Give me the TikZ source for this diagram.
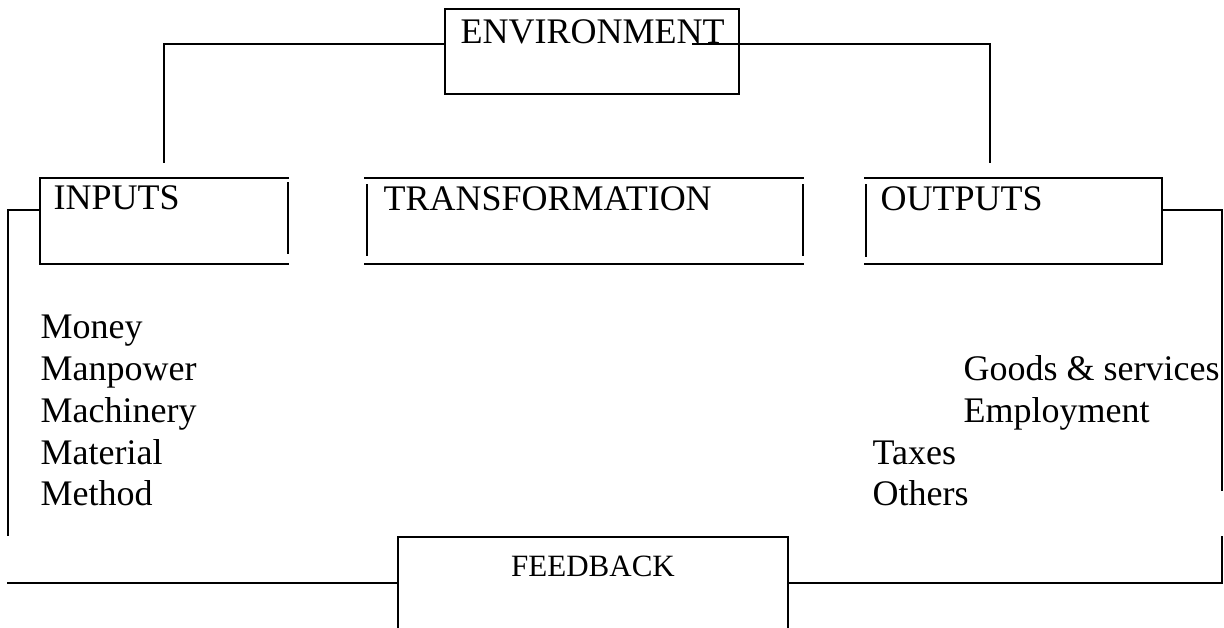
\documentclass[tikz,border=0pt]{standalone}
\usepackage{fontspec}
\setmainfont{Liberation Serif}
\begin{document}
\begin{tikzpicture}[x=1pt,y=-1pt,line width=1.4pt,line cap=rect,
  area/.style={draw=none,rectangle,inner sep=0pt,outer sep=0pt,anchor=north west},
  big/.style={anchor=base west,inner sep=0pt,font=\fontsize{36}{41}\selectfont},
  small/.style={anchor=base,inner sep=0pt,font=\fontsize{31}{36}\selectfont}]
\useasboundingbox (0,0) rectangle (1224,627);
% environment
\node[area,draw,line width=1.1pt,minimum width=294pt,minimum height=85pt] (env) at (445,9) {};
\node[big] (envt) at (460,43) {ENVIRONMENT};
\coordinate (envL) at (445,44);
\coordinate (envR) at (693,44);
\coordinate (inTop) at (164,162);
\coordinate (outTop) at (990,162);
\draw (envL) -| (inTop);
\draw (envR) -| (outTop);
% inputs
\node[area,minimum width=248pt,minimum height=86pt] (in) at (40,178) {};
\draw (in.north west) -- (in.north east);
\draw (in.south west) -- (in.south east);
\draw (in.north west) -- ([yshift=2pt]in.south west);
\draw ([yshift=-5pt]in.north east) -- ([yshift=11pt]in.south east);
\node[big] (int) at (53,209) {INPUTS};
% transformation
\node[area,minimum width=438pt,minimum height=86pt] (tr) at (365,178) {};
\draw (tr.north west) -- (tr.north east);
\draw (tr.south west) -- (tr.south east);
\draw ([xshift=2pt,yshift=-7pt]tr.north west) -- ([xshift=2pt,yshift=9pt]tr.south west);
\draw ([yshift=-7pt]tr.north east) -- ([yshift=9pt]tr.south east);
\node[big] (trt) at (383,210) {TRANSFORMATION};
% outputs
\node[area,minimum width=297pt,minimum height=86pt] (out) at (865,178) {};
\draw (out.north west) -- (out.north east);
\draw (out.south west) -- (out.south east);
\draw (out.north east) -- (out.south east);
\draw ([xshift=1pt,yshift=-7pt]out.north west) -- ([xshift=1pt,yshift=8pt]out.south west);
\node[big] (outt) at (880,210) {OUTPUTS};
% feedback
\node[area,minimum width=390pt,minimum height=95pt] (fb) at (398,537) {};
\draw (fb.south west) -- (fb.north west) -- (fb.north east) -- (fb.south east);
\node[small] (fbt) at (593,576) {FEEDBACK};
% loops
\coordinate (inL) at (40,210);
\coordinate (leftEnd) at (8,535);
\coordinate (leftStart) at (8,583);
\draw (inL) -| (leftEnd);
\draw (leftStart) -- (fb.west |- leftStart);
\coordinate (outR) at (1162,210);
\coordinate (rightEnd) at (1222,490);
\coordinate (rightTop) at (1222,537);
\draw (outR) -| (rightEnd);
\draw (fb.east |- 0,583) -| (rightTop);
% lists
\node[big] (m1) at (40,338) {Money};
\node[big] (m2) at (40,380) {Manpower};
\node[big] (m3) at (40,422) {Machinery};
\node[big] (m4) at (40,464) {Material};
\node[big] (m5) at (40,505) {Method};
\node[big] (o1) at (963,380) {Goods \& services};
\node[big] (o2) at (963,422) {Employment};
\node[big] (o3) at (872,464) {Taxes};
\node[big] (o4) at (872,505) {Others};
\end{tikzpicture}
\end{document}
